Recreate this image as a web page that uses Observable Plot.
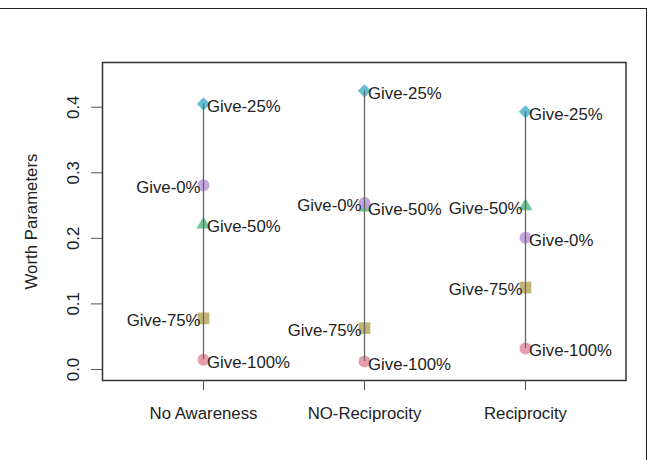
<!DOCTYPE html>
<html><head><meta charset="utf-8">
<script src="https://cdn.jsdelivr.net/npm/d3@7"></script>
<script src="https://cdn.jsdelivr.net/npm/@observablehq/plot@0.6"></script>
<style>
body{margin:0;background:#fff;}
#wrap{position:relative;width:647px;height:460px;overflow:hidden;}
#outer{position:absolute;left:-5px;top:8px;width:652px;height:500px;border-top:1.5px solid #222;border-right:1.5px solid #222;box-sizing:border-box;pointer-events:none;}
</style></head><body><div id="wrap"></div>
<script>
const categories = ["No Awareness", "NO-Reciprocity", "Reciprocity"];
const groups = ["Give-100%", "Give-75%", "Give-50%", "Give-25%", "Give-0%"];
const give100 = [0.015, 0.012, 0.032];
const give75 = [0.078, 0.063, 0.125];
const give50 = [0.221, 0.247, 0.249];
const give25 = [0.405, 0.425, 0.393];
const give0 = [0.281, 0.254, 0.201];
const yTicks = [0, 0.1, 0.2, 0.3, 0.4];
const yTickLabels = ["0.0", "0.1", "0.2", "0.3", "0.4"];
const leftLabels = [["Give-0%", "Give-75%"], ["Give-0%", "Give-75%"], ["Give-50%", "Give-75%"]];

const seriesValues = [give100, give75, give50, give25, give0];
const colors = {"Give-100%": "#E495A5", "Give-75%": "#BDAB66", "Give-50%": "#65BC8C", "Give-25%": "#55B8D0", "Give-0%": "#C29DDE"};
const symbols = {"Give-100%": "circle", "Give-75%": "square", "Give-50%": "triangle", "Give-25%": "diamond2", "Give-0%": "circle"};
const radii = {"Give-100%": 6, "Give-75%": 6.6, "Give-50%": 5.2, "Give-25%": 6, "Give-0%": 6};

const rows = [];
groups.forEach((g, gi) => categories.forEach((c, ci) => {
  rows.push({category: c, group: g, value: seriesValues[gi][ci], left: leftLabels[ci].includes(g)});
}));
const ranges = categories.map(c => {
  const v = rows.filter(r => r.category === c).map(r => r.value);
  return {category: c, lo: d3.min(v), hi: d3.max(v)};
});

const font = "'Liberation Sans', Arial, sans-serif";
const chart = Plot.plot({
  width: 647,
  height: 460,
  marginLeft: 102,
  marginRight: 21.5,
  marginTop: 62,
  marginBottom: 80,
  style: {fontFamily: font, fontSize: "16.8px", color: "#222", background: "transparent"},
  x: {type: "point", domain: categories, padding: 0.619, axis: null},
  y: {domain: [-0.0168, 0.4682], axis: null},
  marks: [
    Plot.frame({stroke: "#333", strokeWidth: 1.5}),
    Plot.axisY({ticks: yTicks, tickFormat: (d) => yTickLabels[yTicks.indexOf(d)], tickSize: 11, tickRotate: -90, tickPadding: 12.7, stroke: "#555", fill: "#222", fontSize: 16.8, label: "Worth Parameters", labelAnchor: "center", labelOffset: 77, labelArrow: "none"}),
    Plot.axisX({tickSize: 10, tickPadding: 16.5, stroke: "#555", fill: "#222", fontSize: 16.8, label: null}),
    ...groups.map(g => Plot.dot(rows.filter(r => r.group === g), {x: "category", y: "value", symbol: () => symbols[g], fill: colors[g], fillOpacity: 0.9, r: radii[g], stroke: "none"})),
    Plot.ruleX(ranges, {x: "category", y1: "lo", y2: "hi", stroke: "#666", strokeWidth: 1.3}),
    Plot.text(rows.filter(r => !r.left), {x: "category", y: "value", text: "group", textAnchor: "start", dx: 3.5, dy: 2.5, fill: "#222", fontSize: 16.8}),
    Plot.text(rows.filter(r => r.left), {x: "category", y: "value", text: "group", textAnchor: "end", dx: -3, dy: 2.5, fill: "#222", fontSize: 16.8})
  ]
});
const wrap = document.getElementById("wrap");
wrap.appendChild(chart);
const outer = document.createElement("div");
outer.id = "outer";
wrap.appendChild(outer);
</script></body></html>
